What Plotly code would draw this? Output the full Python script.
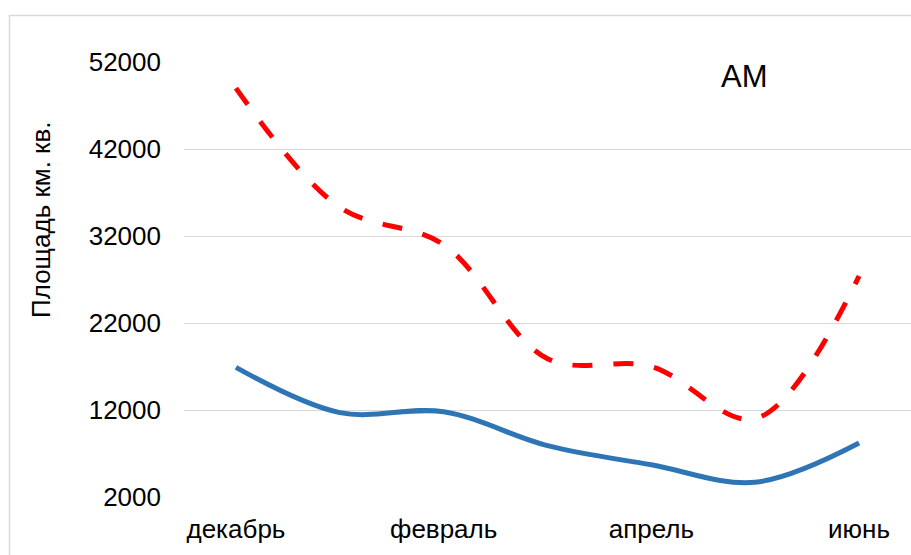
import plotly.graph_objects as go

# Months on the category axis
months = ["декабрь", "январь", "февраль", "март", "апрель", "май", "июнь"]

# Area, km² (two series)
area_solid = [16900, 11700, 11800, 7900, 5700, 3700, 8200]
area_dashed = [49000, 35300, 31000, 17900, 17000, 11000, 27400]

y_ticks = [2000, 12000, 22000, 32000, 42000, 52000]
x_ticks = months[::2]

FONT = "Liberation Sans, Arial, sans-serif"
GRID = "#D9D9D9"

fig = go.Figure()
fig.add_trace(go.Scatter(
    x=months, y=area_solid, mode="lines",
    line=dict(color="#2E75B6", width=5, shape="spline", smoothing=1),
    showlegend=False,
))
fig.add_trace(go.Scatter(
    x=months, y=area_dashed, mode="lines",
    line=dict(color="#FF0000", width=5, shape="spline", smoothing=1, dash="20px,21px"),
    showlegend=False,
))

W, H = 911, 555
L, R, T, B = 184, 0, 62, 58
pw, ph = W - L - R, H - T - B

def px_x(x):
    return (x - L) / pw

def px_y(y):
    return (H - B - y) / ph

fig.update_layout(
    width=W, height=H,
    margin=dict(l=L, r=R, t=T, b=B),
    paper_bgcolor="white", plot_bgcolor="white",
    font=dict(family=FONT, size=26, color="#000000"),
    xaxis=dict(
        type="category", range=[-0.5, 6.5],
        tickmode="array", tickvals=x_ticks, ticktext=x_ticks,
        showgrid=False, zeroline=False, showline=False, ticks="",
        ticklabelstandoff=14,
        tickfont=dict(size=26),
    ),
    yaxis=dict(
        range=[2000, 52000], tickmode="array", tickvals=y_ticks,
        ticktext=[str(v) for v in y_ticks],
        showgrid=True, gridcolor=GRID, gridwidth=1.4,
        zeroline=False, showline=False, ticks="",
        ticklabelstandoff=22,
        tickfont=dict(size=26),
    ),
    shapes=[
        dict(type="rect", xref="paper", yref="paper",
             x0=px_x(9.5), x1=px_x(930), y0=px_y(580), y1=px_y(15.5),
             line=dict(color=GRID, width=1.5), fillcolor="rgba(0,0,0,0)",
             layer="below"),
    ],
    annotations=[
        dict(text="АМ", xref="paper", yref="paper",
             x=px_x(744), y=px_y(76), xanchor="center", yanchor="middle",
             showarrow=False, font=dict(size=31, family=FONT)),
        dict(text="Площадь км. кв.", xref="paper", yref="paper",
             x=px_x(41), y=px_y(220), xanchor="center", yanchor="middle",
             textangle=-90, showarrow=False, font=dict(size=26, family=FONT)),
    ],
)

fig.write_html("out.html")
